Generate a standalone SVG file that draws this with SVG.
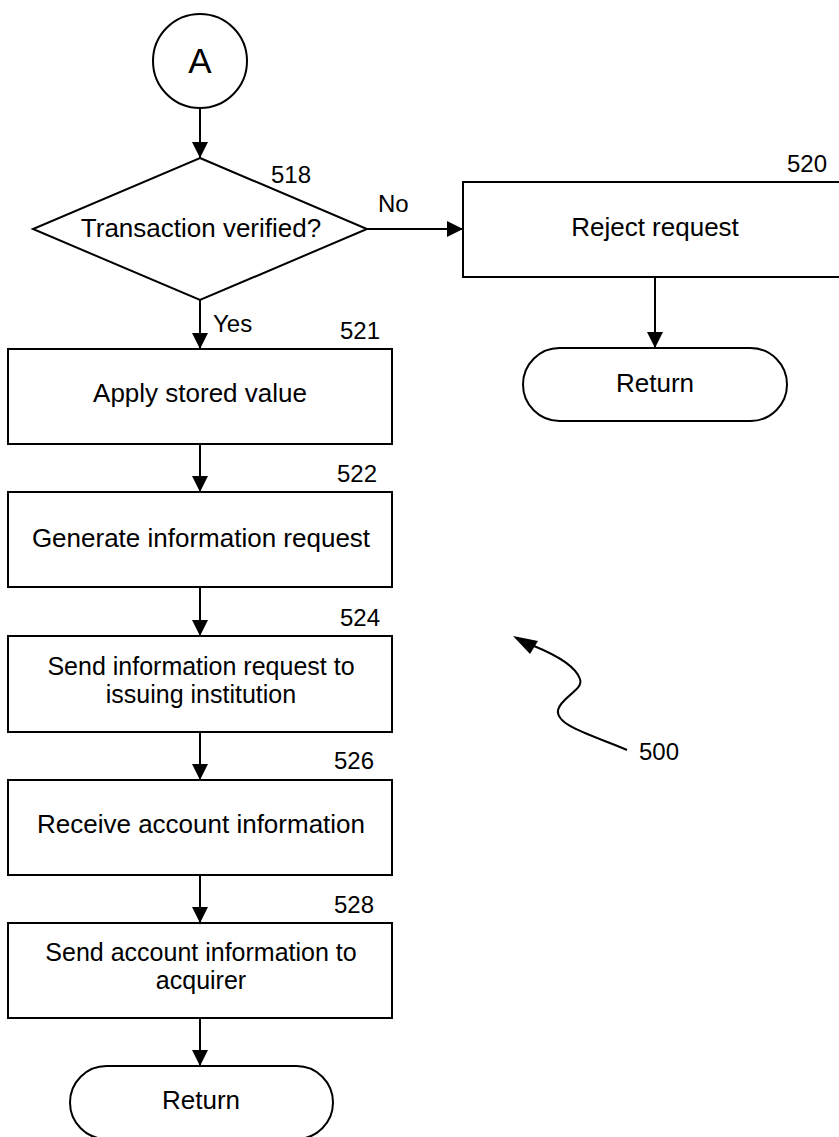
<svg xmlns="http://www.w3.org/2000/svg" width="839" height="1137" viewBox="0 0 839 1137">
<defs>
<marker id="arr" markerWidth="16" markerHeight="16" viewBox="0 0 16 16" refX="16" refY="8" orient="auto" markerUnits="userSpaceOnUse">
<path d="M0,0 L16,8 L0,16 Z" fill="#000"/>
</marker>
<style>
.s{fill:#fff;stroke:#000;stroke-width:2}
.t{font-family:"Liberation Sans",Arial,sans-serif;font-size:26px;fill:#000;text-anchor:middle}
.t2{font-family:"Liberation Sans",Arial,sans-serif;font-size:25px;fill:#000;text-anchor:middle}
.l{font-family:"Liberation Sans",Arial,sans-serif;font-size:24px;fill:#000}
.c{fill:none;stroke:#000;stroke-width:2}
</style>
</defs>
<rect width="839" height="1137" fill="#fff"/>
<g id="connectors">
<line class="c" x1="200" y1="108" x2="200" y2="158" marker-end="url(#arr)"/>
<line class="c" x1="367" y1="229" x2="463" y2="229" marker-end="url(#arr)"/>
<line class="c" x1="200" y1="300" x2="200" y2="349" marker-end="url(#arr)"/>
<line class="c" x1="655" y1="277" x2="655" y2="348" marker-end="url(#arr)"/>
<line class="c" x1="200" y1="444" x2="200" y2="492" marker-end="url(#arr)"/>
<line class="c" x1="200" y1="587" x2="200" y2="636" marker-end="url(#arr)"/>
<line class="c" x1="200" y1="732" x2="200" y2="780" marker-end="url(#arr)"/>
<line class="c" x1="200" y1="875" x2="200" y2="923" marker-end="url(#arr)"/>
<line class="c" x1="200" y1="1018" x2="200" y2="1066" marker-end="url(#arr)"/>
<text class="l" x="378" y="212">No</text>
<text class="l" x="213" y="332">Yes</text>
</g>
<g id="nodeA">
<circle class="s" cx="200" cy="61" r="47"/>
<text class="t" x="200" y="73" style="font-size:35px">A</text>
</g>
<g id="n518">
<polygon class="s" points="200,158 367,229 200,300 33,229"/>
<text class="t" x="201" y="237">Transaction verified?</text>
<text class="l" x="271" y="183">518</text>
</g>
<g id="n520">
<rect class="s" x="463" y="182" width="380" height="95"/>
<text class="t" x="655" y="236">Reject request</text>
<text class="l" x="787" y="172">520</text>
</g>
<g id="returnRight">
<rect class="s" x="523" y="348" width="264" height="73" rx="36.5" ry="36.5"/>
<text class="t" x="655" y="392">Return</text>
</g>
<g id="n521">
<rect class="s" x="8" y="349" width="384" height="95"/>
<text class="t" x="200" y="402">Apply stored value</text>
<text class="l" x="340" y="339">521</text>
</g>
<g id="n522">
<rect class="s" x="8" y="492" width="384" height="95"/>
<text class="t" x="201" y="547">Generate information request</text>
<text class="l" x="337" y="482">522</text>
</g>
<g id="n524">
<rect class="s" x="8" y="636" width="384" height="96"/>
<text class="t2" x="201" y="675">Send information request to</text>
<text class="t2" x="201" y="703">issuing institution</text>
<text class="l" x="340" y="626">524</text>
</g>
<g id="n526">
<rect class="s" x="8" y="780" width="384" height="95"/>
<text class="t" x="201" y="833">Receive account information</text>
<text class="l" x="334" y="769">526</text>
</g>
<g id="n528">
<rect class="s" x="8" y="923" width="384" height="95"/>
<text class="t2" x="201" y="961">Send account information to</text>
<text class="t2" x="201" y="989">acquirer</text>
<text class="l" x="334" y="913">528</text>
</g>
<g id="returnBottom">
<rect class="s" x="70" y="1066" width="263" height="73" rx="36.5" ry="36.5"/>
<text class="t" x="201" y="1109">Return</text>
</g>
<g id="ref500">
<path class="c" d="M627,750 C595,736 555,726 558,710 C561,697 584,690 580,679 C576,667 556,655 534,646"/>
<polygon points="513,636 538,641 530,654" fill="#000"/>
<text class="l" x="639" y="760">500</text>
</g>
</svg>
